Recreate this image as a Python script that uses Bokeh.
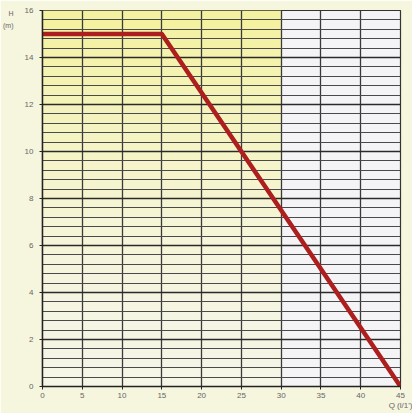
from bokeh.plotting import figure
from bokeh.models import Range1d, FixedTicker, BoxAnnotation, LinearAxis
from bokeh.embed import file_html
from bokeh.resources import INLINE

# data
q_values = [0, 15, 45]          # Q (l/1')
h_values = [15, 15, 0]          # H (m)
x_ticks = [0, 5, 10, 15, 20, 25, 30, 35, 40, 45]
y_ticks = [0, 2, 4, 6, 8, 10, 12, 14, 16]
y_minor = [round(i * 0.4, 1) for i in range(41)]
x_unit = "Q (l/1')"
y_unit = ["H", "(m)"]

p = figure(width=412, height=413, output_backend="svg", toolbar_location=None,
           x_range=Range1d(0, 45), y_range=Range1d(0, 16),
           min_border_left=42, min_border_right=12, min_border_top=10, min_border_bottom=24)

p.background_fill_color = "#f4f4f6"
p.border_fill_color = "#f6f5de"
p.outline_line_color = "#333333"
p.outline_line_width = 1.2

# yellow shaded zone (gradient bands) over x 0..30
top_col = (244, 242, 160)
bot_col = (246, 246, 230)
n = 20
for i in range(n):
    t = (i / (n - 1)) ** 1.8
    c = tuple(int(bot_col[k] + (top_col[k] - bot_col[k]) * t) for k in range(3))
    p.add_layout(BoxAnnotation(left=0, right=30, bottom=16 * i / n, top=16 * (i + 1) / n,
                               fill_color="#%02x%02x%02x" % c, fill_alpha=1.0,
                               line_color=None, level="image"))

p.xaxis.ticker = FixedTicker(ticks=x_ticks)
p.yaxis.ticker = FixedTicker(ticks=y_ticks, minor_ticks=y_minor)
p.xgrid.ticker = FixedTicker(ticks=x_ticks)
p.ygrid.ticker = FixedTicker(ticks=y_ticks, minor_ticks=y_minor)
p.xgrid.level = "underlay"
p.ygrid.level = "underlay"

p.xgrid.grid_line_color = "#3a3a3a"
p.xgrid.grid_line_width = 1.3
p.ygrid.grid_line_color = "#2a2a2a"
p.ygrid.grid_line_width = 1.6
p.ygrid.minor_grid_line_color = "#4a4a4a"
p.ygrid.minor_grid_line_width = 1.1

for ax in (p.xaxis, p.yaxis):
    ax.axis_line_color = "#222222"
    ax.axis_line_width = 1.5
    ax.major_tick_line_color = "#222222"
    ax.major_tick_out = 3
    ax.major_tick_in = 0
    ax.minor_tick_line_color = None
    ax.major_label_text_font = "Liberation Sans"
    ax.major_label_text_font_size = "8px"
    ax.major_label_text_color = "#666666"

p.yaxis.major_label_standoff = 5
p.xaxis.major_label_standoff = 1
p.xaxis.major_label_overrides = {45: "45\n" + x_unit}

# unit label for H (m) as an extra left axis
unit_axis = LinearAxis(ticker=FixedTicker(ticks=[15.87, 15.37]),
                       major_label_overrides={15.87: y_unit[0], 15.37: y_unit[1]})
unit_axis.axis_line_color = None
unit_axis.major_tick_line_color = None
unit_axis.minor_tick_line_color = None
unit_axis.major_label_standoff = 2
unit_axis.major_label_text_align = "center"
unit_axis.major_label_text_font = "Liberation Sans"
unit_axis.major_label_text_font_size = "7px"
unit_axis.major_label_text_color = "#666666"
p.add_layout(unit_axis, "left")

p.line(q_values, h_values, line_color="#ad1f1e", line_width=4.5, line_join="round")

open("out.html", "w").write(file_html(p, INLINE))
